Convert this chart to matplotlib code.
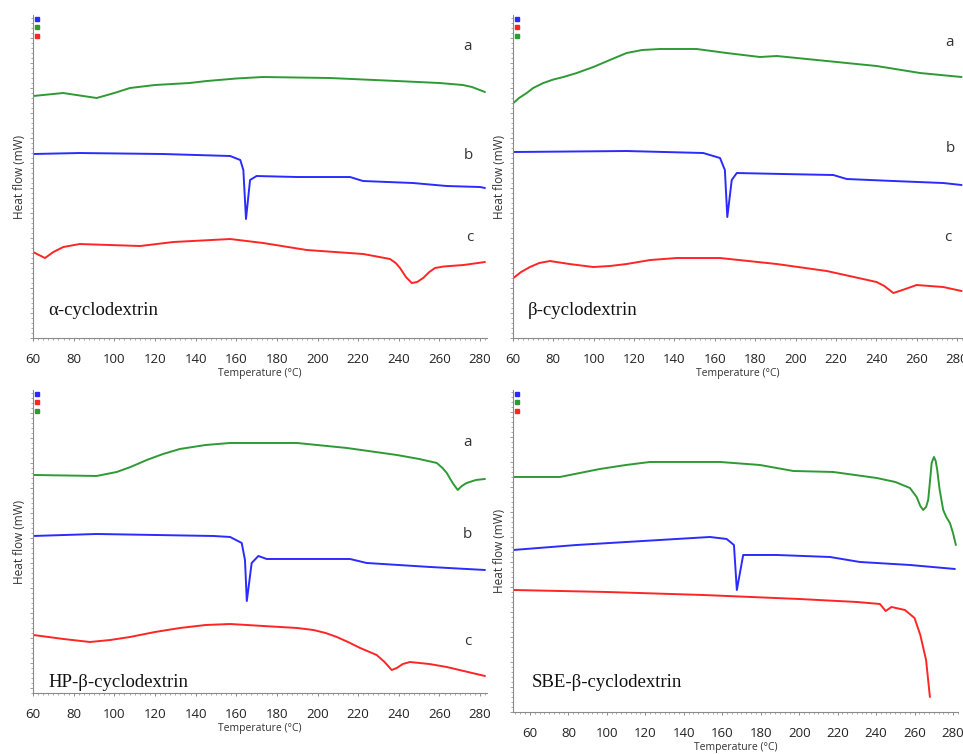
import matplotlib
matplotlib.use("Agg")
import matplotlib.pyplot as plt
from matplotlib.ticker import MultipleLocator, NullFormatter
from matplotlib.lines import Line2D

GREEN = "#2f9a35"
BLUE = "#2b2bff"
RED = "#ff2525"

# ---- alpha-cyclodextrin ----
a1_T = [60, 74.8, 91.3, 100, 107.7, 120, 137, 145.5, 160, 173, 206, 239, 260, 271.6, 276, 282.4]
a1_y = [24.2, 24.5, 24.0, 24.5, 25.0, 25.3, 25.5, 25.7, 25.95, 26.1, 26.0, 25.7, 25.5, 25.3, 25.1, 24.6]
b1_T = [60, 83, 124, 157, 162, 163.5, 164.8, 166.8, 170, 189.8, 216, 222.4, 247, 263.6, 280, 282.4]
b1_y = [18.4, 18.5, 18.4, 18.2, 17.8, 16.8, 11.9, 15.8, 16.2, 16.1, 16.1, 15.7, 15.5, 15.2, 15.1, 15.0]
c1_T = [60, 65.9, 70, 74.9, 83, 112.7, 129, 157, 173.3, 194.7, 222.6, 235.7, 238.5, 240.6, 243.5,
        246.4, 249, 252, 255, 257.8, 262, 271.8, 282.4]
c1_y = [8.6, 8.0, 8.6, 9.1, 9.4, 9.2, 9.6, 9.9, 9.5, 8.8, 8.4, 7.9, 7.5, 7.0, 6.1,
        5.5, 5.6, 6.0, 6.6, 7.0, 7.15, 7.3, 7.6]

# ---- beta-cyclodextrin ----
a2_T = [60.2, 63, 66.8, 70, 75, 80, 85, 91.6, 99.8, 108, 116.3, 124, 132.8, 151, 165.9, 182.4,
        190.7, 215.5, 240.2, 261.7, 282.3]
a2_y = [23.5, 24.0, 24.5, 25.0, 25.5, 25.85, 26.1, 26.5, 27.1, 27.8, 28.5, 28.8, 28.9, 28.9, 28.5, 28.1,
        28.2, 27.7, 27.2, 26.5, 26.1]
b2_T = [60, 116.3, 154.3, 162.6, 165, 166.2, 168.4, 170.9, 194, 218.7, 225.4, 248.5, 273.2, 282.3]
b2_y = [18.6, 18.7, 18.5, 18.0, 16.8, 12.1, 15.8, 16.5, 16.4, 16.3, 15.9, 15.7, 15.5, 15.3]
c2_T = [60.2, 64, 68.4, 73, 78.3, 88, 99.8, 108, 116.3, 128, 141.1, 162.6, 190.7, 215.5, 240.2,
        244, 248.5, 253, 260, 273.2, 282.3]
c2_y = [6.0, 6.6, 7.1, 7.5, 7.7, 7.4, 7.1, 7.2, 7.4, 7.8, 8.0, 8.0, 7.4, 6.7, 5.6,
        5.2, 4.5, 4.8, 5.3, 5.1, 4.7]

# ---- HP-beta-cyclodextrin ----
a3_T = [60.2, 91.3, 101.2, 108, 116, 124, 132.3, 145, 157, 189.8, 214.4, 239, 250, 258.7, 261.5,
        263.6, 266.5, 269, 271, 273.4, 278, 282.4]
a3_y = [21.3, 21.2, 21.6, 22.1, 22.8, 23.4, 23.9, 24.3, 24.5, 24.5, 24.0, 23.3, 22.9, 22.5, 22.0,
        21.5, 20.5, 19.8, 20.2, 20.5, 20.8, 20.9]
b3_T = [60, 91.3, 148.7, 157, 162.7, 164.3, 165.2, 167.6, 170.9, 175, 216, 224.2, 255.4, 282.4]
b3_y = [15.2, 15.4, 15.2, 15.1, 14.5, 12.8, 8.7, 12.5, 13.2, 12.9, 12.9, 12.5, 12.1, 11.8]
c3_T = [60.2, 75, 88, 98, 107.7, 120, 132.3, 145, 157, 173.3, 190, 198, 204, 209.5, 215, 221,
        229.1, 233, 236.5, 239, 242, 245.5, 255, 263.6, 282.4]
c3_y = [5.3, 4.9, 4.6, 4.8, 5.1, 5.6, 6.0, 6.3, 6.4, 6.2, 6.0, 5.8, 5.5, 5.1, 4.6, 4.0,
        3.3, 2.6, 1.8, 2.0, 2.4, 2.6, 2.4, 2.1, 1.2]

# ---- SBE-beta-cyclodextrin ----
a4_T = [51.3, 75.6, 86, 96.4, 110, 122.4, 144.9, 158.8, 179.6, 196.9, 217.7, 240.3, 250, 257.6,
        261.1, 263, 264.5, 266, 267.1, 268, 268.9, 270.1, 271, 271.8, 273, 274.9, 276.5, 278.4,
        280, 281.5]
a4_y = [23.5, 23.5, 23.9, 24.3, 24.7, 25.0, 25.0, 25.0, 24.7, 24.1, 24.0, 23.4, 23.0, 22.4,
        21.5, 20.6, 20.2, 20.5, 21.2, 23.0, 24.9, 25.5, 25.1, 24.2, 22.3, 20.2, 19.5, 18.9,
        17.9, 16.7]
b4_T = [51.3, 84.3, 118.9, 153.6, 162.3, 166.1, 167.6, 170.9, 188.3, 216, 231.6, 257.6, 281]
b4_y = [16.2, 16.7, 17.1, 17.5, 17.3, 16.7, 12.2, 15.7, 15.7, 15.5, 15.0, 14.7, 14.3]
c4_T = [51.3, 100, 150, 200, 230, 242, 245, 248, 255, 260, 263, 266, 268]
c4_y = [12.2, 12.0, 11.7, 11.3, 11.0, 10.8, 10.1, 10.5, 10.2, 9.4, 7.7, 5.2, 1.5]

names = ["α-cyclodextrin", "β-cyclodextrin", "HP-β-cyclodextrin", "SBE-β-cyclodextrin"]
xtick_vals = [60, 80, 100, 120, 140, 160, 180, 200, 220, 240, 260, 280]
curve_labels = ["a", "b", "c"]

fig = plt.figure(figsize=(9.63, 7.54), dpi=100)

panels = [
    dict(rect=[0.0343, 0.5517, 0.4714, 0.4284], xlim=(60, 283.4), ylim=(0, 32.3),
         curves=[(a1_T, a1_y, GREEN), (b1_T, b1_y, BLUE), (c1_T, c1_y, RED)],
         lab_pos=[(274, 29.2), (274, 18.3), (275, 10.1)], name_pos=(67.4, 2.8),
         legend=[BLUE, GREEN, RED]),
    dict(rect=[0.5327, 0.5517, 0.4673, 0.4284], xlim=(60, 283.0), ylim=(0, 32.3),
         curves=[(a2_T, a2_y, GREEN), (b2_T, b2_y, BLUE), (c2_T, c2_y, RED)],
         lab_pos=[(276.5, 29.6), (276.5, 19.0), (275.6, 10.1)], name_pos=(67.4, 2.8),
         legend=[BLUE, RED, GREEN]),
    dict(rect=[0.0343, 0.0809, 0.4714, 0.4019], xlim=(60, 283.4), ylim=(-0.5, 29.8),
         curves=[(a3_T, a3_y, GREEN), (b3_T, b3_y, BLUE), (c3_T, c3_y, RED)],
         lab_pos=[(273.6, 24.5), (273.6, 15.3), (274, 4.6)], name_pos=(67.4, 0.6),
         legend=[BLUE, RED, GREEN]),
    dict(rect=[0.5327, 0.0557, 0.4621, 0.4271], xlim=(51.2, 282.6), ylim=(0, 32.2),
         curves=[(a4_T, a4_y, GREEN), (b4_T, b4_y, BLUE), (c4_T, c4_y, RED)],
         lab_pos=None, name_pos=(60.9, 2.9),
         legend=[BLUE, GREEN, RED]),
]

for i, p in enumerate(panels):
    ax = fig.add_axes(p["rect"])
    for T, y, col in p["curves"]:
        ax.plot(T, y, color=col, lw=1.4, solid_joinstyle="round", solid_capstyle="round")
    ax.set_xlim(*p["xlim"])
    ax.set_ylim(*p["ylim"])
    for s in ["top", "right"]:
        ax.spines[s].set_visible(False)
    for s in ["left", "bottom"]:
        ax.spines[s].set_color("#8a8a8a")
        ax.spines[s].set_linewidth(0.8)
    ax.set_xticks(xtick_vals)
    ax.set_xticklabels([str(v) for v in xtick_vals], fontsize=9.5, family="Open Sans",
                       color="#222222")
    ax.xaxis.set_minor_locator(MultipleLocator(2.5))
    ax.yaxis.set_major_locator(MultipleLocator(2.5))
    ax.yaxis.set_minor_locator(MultipleLocator(0.5))
    ax.yaxis.set_major_formatter(NullFormatter())
    ax.tick_params(axis="x", which="major", length=2.5, width=0.7, color="#8a8a8a", pad=8)
    ax.tick_params(axis="both", which="minor", length=1.5, width=0.5, color="#8a8a8a")
    ax.tick_params(axis="y", which="major", length=2.5, width=0.6, color="#8a8a8a")
    ax.set_xlabel("Temperature (°C)", fontsize=7.5, family="Open Sans", color="#333333",
                  labelpad=2)
    ax.set_ylabel("Heat flow (mW)", fontsize=8.5, family="Open Sans", color="#333333",
                  labelpad=-1)
    if p["lab_pos"]:
        for lab, (tx, ty) in zip(curve_labels, p["lab_pos"]):
            ax.text(tx, ty, lab, fontsize=11, family="Open Sans", color="#333333",
                    ha="center", va="center")
    ax.text(p["name_pos"][0], p["name_pos"][1], names[i], fontsize=13.5,
            family="Liberation Serif", color="#111111", ha="left", va="center")
    handles = [Line2D([], [], ls="none", marker="s", markersize=3.3,
                      markerfacecolor=c, markeredgecolor=c) for c in p["legend"]]
    ax.legend(handles, ["", "", ""], loc="upper left", frameon=False, fontsize=5,
              handlelength=0.8, handletextpad=0, labelspacing=0.35,
              borderaxespad=0.1, borderpad=0.1)

fig.savefig("out.png", dpi=100)
